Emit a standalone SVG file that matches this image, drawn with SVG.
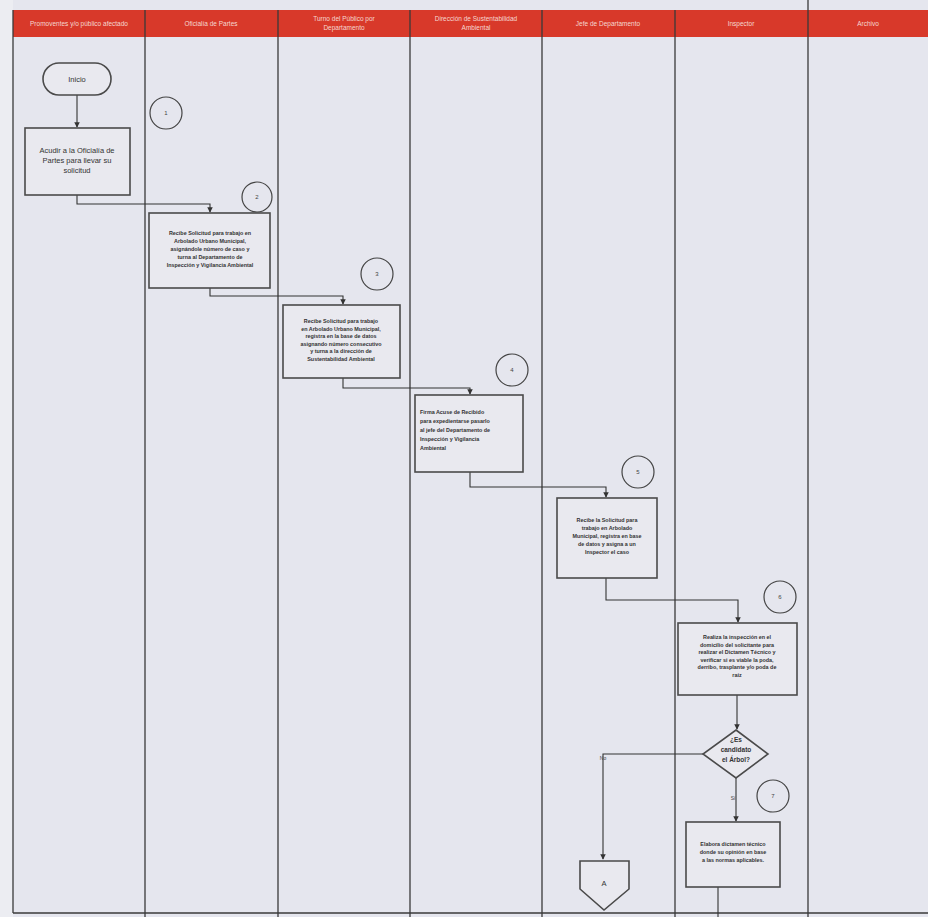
<svg xmlns="http://www.w3.org/2000/svg" width="928" height="917" viewBox="0 0 928 917">
<defs>
<marker id="arr" viewBox="0 0 8 8" refX="7" refY="4" markerWidth="5" markerHeight="5" orient="auto"><path d="M0,0 L8,4 L0,8 z" fill="#333"/></marker>
<style>
.lane{stroke:#3a3a3a;stroke-width:1.3;fill:none}
.hd{font-family:"Liberation Sans",Arial,sans-serif;font-size:6.5px;fill:#f6d8d0;text-anchor:middle}
.box{fill:#e9e9ef;stroke:#4a4a4a;stroke-width:1.6}
.t{font-family:"Liberation Sans",Arial,sans-serif;font-size:5.4px;font-weight:bold;fill:#333;text-anchor:middle}
.tl{font-family:"Liberation Sans",Arial,sans-serif;font-size:5.4px;font-weight:bold;fill:#333}
.num{fill:none;stroke:#444;stroke-width:1.2}
.nt{font-family:"Liberation Sans",Arial,sans-serif;font-size:6px;fill:#444;text-anchor:middle}
.big{font-family:"Liberation Sans",Arial,sans-serif;font-size:7.5px;fill:#333;text-anchor:middle}
.dt{font-family:"Liberation Sans",Arial,sans-serif;font-size:6.5px;font-weight:bold;fill:#333;text-anchor:middle}
.lb{font-family:"Liberation Sans",Arial,sans-serif;font-size:5px;fill:#444;text-anchor:middle}
.c{fill:none;stroke:#333;stroke-width:1.1}
</style>
</defs>
<rect x="0" y="0" width="928" height="917" fill="#e5e6ee"/>
<rect x="0" y="0" width="13" height="917" fill="#ecedf2"/>
<g id="lanes">
<rect x="13" y="10" width="915" height="27" fill="#d8392a"/>
<line class="lane" x1="13" y1="10" x2="13" y2="913"/>
<line class="lane" x1="145" y1="10" x2="145" y2="917"/>
<line class="lane" x1="278" y1="10" x2="278" y2="917"/>
<line class="lane" x1="410" y1="10" x2="410" y2="917"/>
<line class="lane" x1="542" y1="10" x2="542" y2="917"/>
<line class="lane" x1="675" y1="10" x2="675" y2="917"/>
<line class="lane" x1="808" y1="0" x2="808" y2="917"/>
<line class="lane" x1="13" y1="913" x2="928" y2="913"/>
<text class="hd" x="79" y="26">Promoventes y/o público afectado</text>
<text class="hd" x="211" y="26">Oficialía de Partes</text>
<text class="hd" x="344" y="21">Turno del Público por</text>
<text class="hd" x="344" y="30">Departamento</text>
<text class="hd" x="476" y="21">Dirección de Sustentabilidad</text>
<text class="hd" x="476" y="30">Ambiental</text>
<text class="hd" x="608" y="26">Jefe de Departamento</text>
<text class="hd" x="741" y="26">Inspector</text>
<text class="hd" x="868" y="26">Archivo</text>
</g>
<g id="connectors">
<line class="c" x1="77" y1="95" x2="77" y2="127" marker-end="url(#arr)"/>
<polyline class="c" points="77,195 77,204 210,204 210,212" marker-end="url(#arr)"/>
<polyline class="c" points="210,288 210,296 343,296 343,304" marker-end="url(#arr)"/>
<polyline class="c" points="343,378 343,388 470,388 470,394" marker-end="url(#arr)"/>
<polyline class="c" points="470,472 470,487 606,487 606,497" marker-end="url(#arr)"/>
<polyline class="c" points="606,578 606,600 738,600 738,622" marker-end="url(#arr)"/>
<line class="c" x1="737" y1="695" x2="737" y2="729" marker-end="url(#arr)"/>
<polyline class="c" points="703,754 603,754 603,859" marker-end="url(#arr)"/>
<text class="lb" x="603" y="760">No</text>
<line class="c" x1="736" y1="778" x2="736" y2="821" marker-end="url(#arr)"/>
<text class="lb" x="733" y="800">Sí</text>
<line class="c" x1="718" y1="887" x2="718" y2="917"/>
</g>
<g id="inicio">
<rect x="43" y="63" width="68" height="32" rx="16" class="box"/>
<text class="big" x="77" y="82">Inicio</text>
</g>
<g id="n1">
<rect x="25" y="128" width="105" height="67" class="box"/>
<text class="big" x="77" y="153">Acudir a la Oficialía de</text>
<text class="big" x="77" y="163">Partes para llevar su</text>
<text class="big" x="77" y="173">solicitud</text>
</g>
<g id="c1"><circle cx="166" cy="113" r="16" class="num"/><text class="nt" x="166" y="115">1</text></g>
<g id="c2"><circle cx="257" cy="197" r="15" class="num"/><text class="nt" x="257" y="199">2</text></g>
<g id="c3"><circle cx="377" cy="274" r="16" class="num"/><text class="nt" x="377" y="276">3</text></g>
<g id="c4"><circle cx="512" cy="370" r="16" class="num"/><text class="nt" x="512" y="372">4</text></g>
<g id="c5"><circle cx="638" cy="472" r="16" class="num"/><text class="nt" x="638" y="474">5</text></g>
<g id="c6"><circle cx="780" cy="597" r="16" class="num"/><text class="nt" x="780" y="599">6</text></g>
<g id="c7"><circle cx="773" cy="796" r="16" class="num"/><text class="nt" x="773" y="798">7</text></g>
<g id="n2">
<rect x="149" y="213" width="121" height="75" class="box"/>
<text class="t" x="210" y="235">Recibe Solicitud para trabajo en</text>
<text class="t" x="210" y="243">Arbolado Urbano Municipal,</text>
<text class="t" x="210" y="251">asignándole número de caso y</text>
<text class="t" x="210" y="259">turna al Departamento de</text>
<text class="t" x="210" y="267">Inspección y Vigilancia Ambiental</text>
</g>
<g id="n3">
<rect x="283" y="305" width="117" height="73" class="box"/>
<text class="t" x="341" y="323">Recibe Solicitud para trabajo</text>
<text class="t" x="341" y="330.5">en Arbolado Urbano Municipal,</text>
<text class="t" x="341" y="338">registra en la base de datos</text>
<text class="t" x="341" y="345.5">asignando número consecutivo</text>
<text class="t" x="341" y="353">y turna a la dirección de</text>
<text class="t" x="341" y="360.5">Sustentabilidad Ambiental</text>
</g>
<g id="n4">
<rect x="415" y="395" width="108" height="77" class="box"/>
<text class="tl" x="420" y="414">Firma Acuse de Recibido</text>
<text class="tl" x="420" y="423">para expedientarse pasarlo</text>
<text class="tl" x="420" y="432">al jefe del  Departamento de</text>
<text class="tl" x="420" y="441">Inspección y Vigilancia</text>
<text class="tl" x="420" y="450">Ambiental</text>
</g>
<g id="n5">
<rect x="557" y="498" width="100" height="80" class="box"/>
<text class="t" x="607" y="522">Recibe la Solicitud para</text>
<text class="t" x="607" y="530">trabajo en Arbolado</text>
<text class="t" x="607" y="538">Municipal, registra en base</text>
<text class="t" x="607" y="546">de datos y asigna a un</text>
<text class="t" x="607" y="554">Inspector el caso</text>
</g>
<g id="n6">
<rect x="678" y="623" width="119" height="72" class="box"/>
<text class="t" x="737" y="639">Realiza la inspección en el</text>
<text class="t" x="737" y="646.5">domicilio del solicitante para</text>
<text class="t" x="737" y="654">realizar el Dictamen Técnico y</text>
<text class="t" x="737" y="661.5">verificar si es viable la poda,</text>
<text class="t" x="737" y="669">derribo, trasplante y/o poda de</text>
<text class="t" x="737" y="676.5">raíz</text>
</g>
<g id="decision">
<polygon points="736,730 768,754 736,778 703,754" class="box"/>
<text class="dt" x="736" y="742">¿Es</text>
<text class="dt" x="736" y="752">candidato</text>
<text class="dt" x="736" y="762">el Árbol?</text>
</g>
<g id="n7">
<rect x="686" y="822" width="94" height="65" class="box"/>
<text class="t" x="733" y="846">Elabora dictamen técnico</text>
<text class="t" x="733" y="854">donde su opinión en base</text>
<text class="t" x="733" y="862">a las normas aplicables.</text>
</g>
<g id="connA">
<polygon points="580,861 629,861 629,889 604,910 580,889" class="box"/>
<text class="big" x="604" y="886">A</text>
</g>
</svg>
